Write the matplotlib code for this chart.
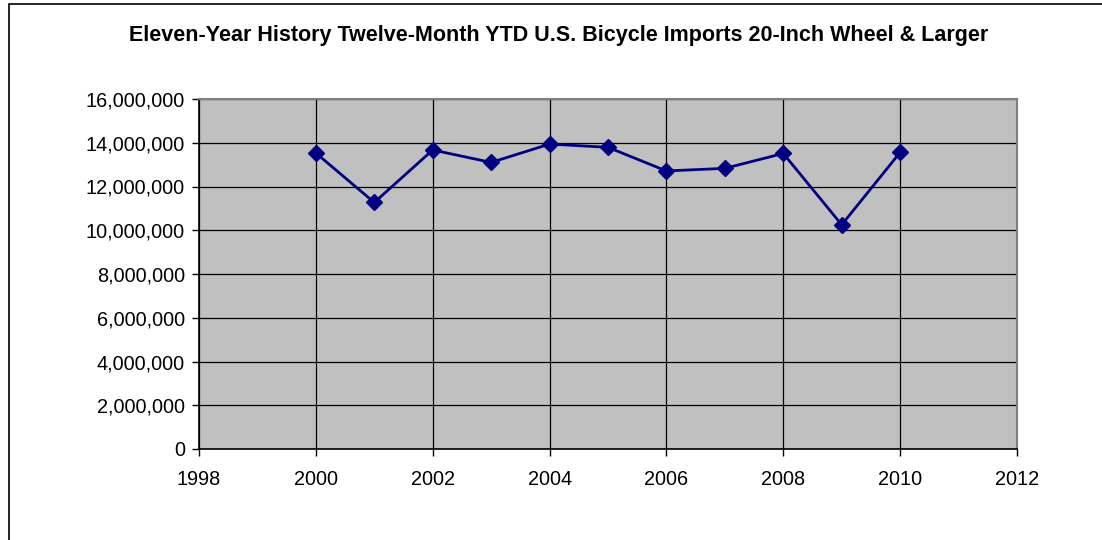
import matplotlib
matplotlib.use("Agg")
import matplotlib.pyplot as plt
from matplotlib.ticker import FuncFormatter, MultipleLocator
from matplotlib.patches import Rectangle

years = [2000, 2001, 2002, 2003, 2004, 2005, 2006, 2007, 2008, 2009, 2010]
imports = [13530000, 11270000, 13670000, 13100000, 13940000, 13790000,
           12710000, 12830000, 13510000, 10250000, 13560000]
title = "Eleven-Year History Twelve-Month YTD U.S. Bicycle Imports 20-Inch Wheel & Larger"

plt.rcParams['font.family'] = ['Liberation Sans', 'DejaVu Sans']

W, H = 1102, 540
fig = plt.figure(figsize=(W / 100, H / 100), dpi=100)

# outer chart frame
fig.patches.append(Rectangle((9 / W, -0.05), 1.2, (540 - 4) / H + 0.05,
                             transform=fig.transFigure, fill=False,
                             edgecolor='black', linewidth=1.2))

left, right, top, bottom = 199, 1017, 99, 449
ax = fig.add_axes([left / W, 1 - bottom / H, (right - left) / W, (bottom - top) / H])
ax.set_facecolor('#C0C0C0')

ax.plot(years, imports, color='#000080', linewidth=2, marker='D',
        markersize=8.5, zorder=3, clip_on=False)

ax.set_xlim(1998, 2012)
ax.set_ylim(0, 16000000)
ax.xaxis.set_major_locator(MultipleLocator(2))
ax.yaxis.set_major_locator(MultipleLocator(2000000))
ax.yaxis.set_major_formatter(FuncFormatter(lambda v, p: f"{int(v):,}"))
ax.grid(True, color='black', linewidth=0.9)
ax.set_axisbelow(True)

for s in ['top', 'right']:
    ax.spines[s].set_color('#808080')
    ax.spines[s].set_linewidth(1.5)
for s in ['left', 'bottom']:
    ax.spines[s].set_color('black')
    ax.spines[s].set_linewidth(1.2)

ax.tick_params(axis='both', direction='out', length=5, width=1, color='black',
               labelsize=14.3, pad=5)
ax.tick_params(axis='x', pad=10)

fig.text(558.5 / W, 1 - 35.5 / H, title, ha='center', va='center',
         fontsize=15.5, fontweight='bold')

fig.savefig('out.png', dpi=100)
